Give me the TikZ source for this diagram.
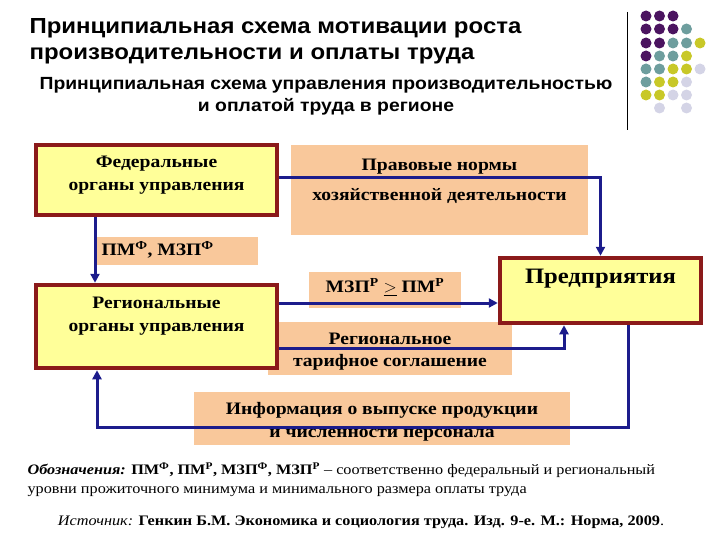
\documentclass[tikz,border=0pt]{standalone}
\usepackage{fontspec}
\setmainfont{Liberation Serif}[FakeStretch=1.12]
\newfontfamily\hd{Liberation Sans}[FakeStretch=1.1]
\usetikzlibrary{arrows.meta}
\definecolor{brd}{HTML}{8B1A1A}
\definecolor{yel}{HTML}{FFFF99}
\definecolor{pch}{HTML}{F9C89B}
\definecolor{arr}{HTML}{1C1C8C}
\definecolor{cP}{HTML}{4B1460}
\definecolor{cT}{HTML}{6E9E9E}
\definecolor{cY}{HTML}{C8C828}
\definecolor{cL}{HTML}{D4D4E6}
\begin{document}
\begin{tikzpicture}[x=1pt,y=-1pt,
  ybox/.style={draw=brd,line width=4.5pt,fill=yel,inner sep=0pt},
  pbox/.style={fill=pch,draw=none,inner sep=0pt},
  btxt/.style={font=\bfseries\fontsize{17.5}{23}\selectfont,align=center},
  conn/.style={draw=arr,line width=3pt,-{Triangle[length=9pt,width=9pt]}},
  dot/.style={circle,inner sep=0pt,minimum size=11pt}]
\useasboundingbox (0,0) rectangle (720,540);
% titles
\node[anchor=west,font=\hd\bfseries\fontsize{21.8}{26}\selectfont,align=left] (t1) at (26,41) {Принципиальная схема мотивации роста\\производительности и оплаты труда};
\node[font=\hd\bfseries\fontsize{17.6}{22}\selectfont,align=center] (t2) at (326,96) {Принципиальная схема управления производительностью\\и оплатой труда в регионе};
% decoration
\draw[line width=1pt] (627,12) -- (627,130);
\foreach \r/\lst in {16/{1/P,2/P,3/P},29/{1/P,2/P,3/P,4/T},43/{1/P,2/P,3/T,4/T,5/Y},56/{1/P,2/T,3/T,4/Y},69/{1/T,2/T,3/Y,4/Y,5/L},82/{1/T,2/Y,3/Y,4/L},95/{1/Y,2/Y,3/L,4/L},108/{2/L,4/L}}{
  \foreach \c/\k in \lst { \node[dot,fill=c\k] at ({646+13.5*(\c-1)},\r) {}; }
}
% peach labels
\node[pbox,minimum width=297pt,minimum height=90pt] (prav) at (439.5,190) {};
\node[btxt] at (439.5,167) {Правовые нормы};
\node[btxt] at (439.5,196) {хозяйственной деятельности};
\node[pbox,minimum width=161pt,minimum height=28pt] (pmf) at (177.5,251) {};
\node[btxt,anchor=west] at (98,250) {ПМ\textsuperscript{Ф}, МЗП\textsuperscript{Ф}};
\node[pbox,minimum width=152pt,minimum height=36pt] (mzp) at (385,290) {};
\node[btxt] at (385,287) {МЗП\textsuperscript{Р} $\underline{\mathbf{>}}$ ПМ\textsuperscript{Р}};
\node[pbox,minimum width=244pt,minimum height=53pt] (rts) at (390,348.5) {};
\node[btxt] at (390,339) {Региональное};
\node[btxt] at (390,362) {тарифное соглашение};
\node[pbox,minimum width=376pt,minimum height=53pt] (info) at (382,418.5) {};
\node[btxt] at (382,410) {Информация о выпуске продукции};
\node[btxt] at (382,435) {и численности персонала};
% main boxes
\node[ybox,minimum width=241pt,minimum height=70pt] (fed) at (156.5,180) {};
\node[btxt,align=center] at (156.5,175) {Федеральные\\органы управления};
\node[ybox,minimum width=241pt,minimum height=83pt] (reg) at (156.5,326.5) {};
\node[btxt,align=center] at (156.5,316) {Региональные\\органы управления};
\node[ybox,minimum width=201pt,minimum height=65pt] (ent) at (600.5,290.5) {};
\node[font=\bfseries\fontsize{22}{26}\selectfont] at (600.5,279) {Предприятия};
% connectors
\coordinate (c1) at (600,178);
\coordinate (c2) at (628,427);
\draw[conn] (fed.south -| 95,0) -- (reg.north -| 95,0);
\draw[conn] (fed.east |- c1) -| (ent.north);
\draw[conn] (reg.east |- 0,303) -- (ent.west |- 0,303);
\draw[conn] (reg.east |- 0,348) -| (ent.south -| 564,0);
\draw[conn] (ent.south -| c2) |- (97,427) -- (reg.south -| 97,0);
% notes
\node[anchor=west,font=\fontsize{14.5}{19}\selectfont,align=left] (n1) at (24,480) {\textit{\textbf{Обозначения:}} \textbf{ПМ\textsuperscript{Ф}, ПМ\textsuperscript{Р}, МЗП\textsuperscript{Ф}, МЗП\textsuperscript{Р}} – соответственно федеральный и региональный\\уровни прожиточного минимума и минимального размера оплаты труда};
\node[font=\fontsize{14.5}{17}\selectfont] (src) at (361,522) {\textit{Источник:} \textbf{Генкин Б.М. Экономика и социология труда. Изд. 9-е. М.: Норма, 2009}.};
\end{tikzpicture}
\end{document}
